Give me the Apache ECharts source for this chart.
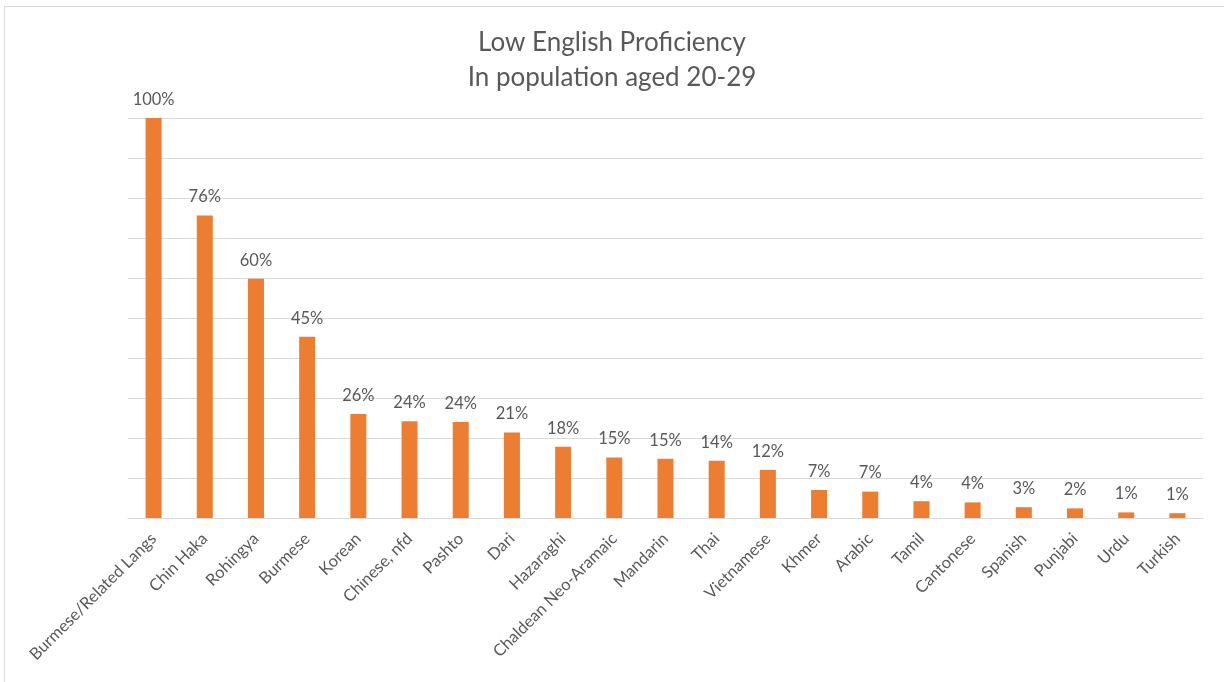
<!DOCTYPE html>
<html>
<head>
<meta charset="utf-8">
<script src="https://cdn.jsdelivr.net/npm/echarts@6/dist/echarts.min.js"></script>
<style>
  html, body { margin: 0; padding: 0; background: #fff; }
  #chart { width: 1224px; height: 682px; }
</style>
</head>
<body>
<div id="chart"></div>
<script>
// data
const languages = [
  "Burmese/Related Langs", "Chin Haka", "Rohingya", "Burmese", "Korean",
  "Chinese, nfd", "Pashto", "Dari", "Hazaraghi", "Chaldean Neo-Aramaic",
  "Mandarin", "Thai", "Vietnamese", "Khmer", "Arabic", "Tamil",
  "Cantonese", "Spanish", "Punjabi", "Urdu", "Turkish"
];
const lowProficiency = [
  100, 75.6, 59.8, 45.3, 26.0, 24.2, 24.0, 21.4, 17.8, 15.1,
  14.8, 14.3, 12.0, 7.0, 6.6, 4.2, 3.9, 2.7, 2.4, 1.4, 1.2
];
const valueLabels = [
  "100%", "76%", "60%", "45%", "26%", "24%", "24%", "21%", "18%", "15%",
  "15%", "14%", "12%", "7%", "7%", "4%", "4%", "3%", "2%", "1%", "1%"
];

const font = "Lato, 'Open Sans', sans-serif";
const grey = "#595959";

const chart = echarts.init(document.getElementById("chart"));

chart.setOption({
  animation: false,
  backgroundColor: "#ffffff",
  title: {
    text: "Low English Proficiency\nIn population aged 20-29",
    left: "center",
    top: 20,
    textStyle: {
      fontFamily: font,
      fontSize: 26,
      fontWeight: "normal",
      color: grey,
      lineHeight: 35,
    },
  },
  graphic: [
    // thin frame on top and left, like the source image
    { type: "line", shape: { x1: 4, y1: 6.5, x2: 1224, y2: 6.5 }, style: { stroke: "#d9d9d9", lineWidth: 1 } },
    { type: "line", shape: { x1: 4.5, y1: 6, x2: 4.5, y2: 682 }, style: { stroke: "#d9d9d9", lineWidth: 1 } },
  ],
  grid: {
    left: 128,
    right: 21,
    top: 118,
    bottom: 164,
  },
  xAxis: {
    type: "category",
    data: languages,
    axisLine: { lineStyle: { color: "#d9d9d9", width: 1 } },
    axisTick: { show: false },
    axisLabel: {
      interval: 0,
      rotate: 45,
      margin: 18,
      fontFamily: font,
      fontSize: 16.5,
      color: grey,
    },
  },
  yAxis: {
    type: "value",
    min: 0,
    max: 100,
    interval: 10,
    axisLabel: { show: false },
    axisLine: { show: false },
    axisTick: { show: false },
    splitLine: { lineStyle: { color: "#d9d9d9", width: 1 } },
  },
  series: [
    {
      type: "bar",
      data: lowProficiency,
      barWidth: 16,
      itemStyle: { color: "#ed7d31" },
      label: {
        show: true,
        position: "top",
        distance: 10,
        fontFamily: font,
        fontSize: 16.5,
        color: grey,
        formatter: (p) => valueLabels[p.dataIndex],
      },
    },
  ],
});
</script>
</body>
</html>
